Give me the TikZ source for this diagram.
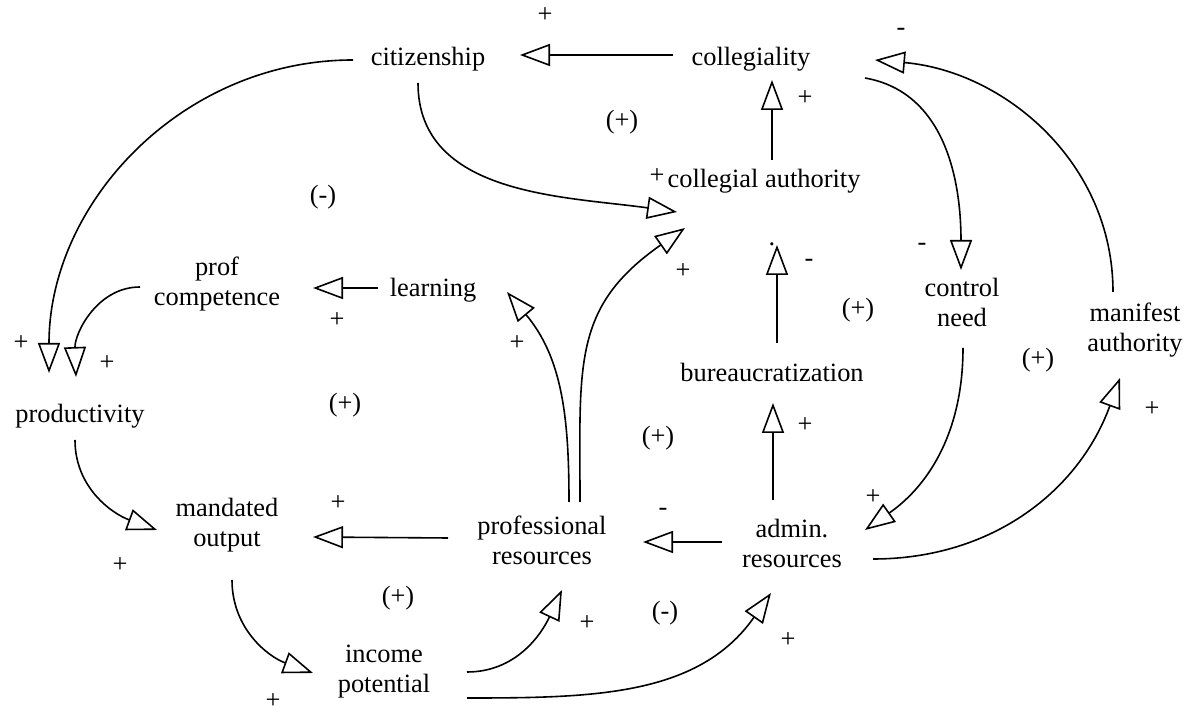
\documentclass[tikz,border=0pt]{standalone}
\usepackage{fontspec}
\setmainfont{Liberation Serif}
\usetikzlibrary{arrows.meta}
\definecolor{ink}{HTML}{000000}

\tikzset{
    var/.style={inner sep=0pt, align=center, text=ink, font=\fontsize{13.2}{15}\selectfont},
    sgn/.style={inner sep=0pt, text=ink, font=\fontsize{13.2}{15}\selectfont},
    link/.style={draw=ink, line width=0.8pt, -{Triangle[open, length=15pt, width=11pt]}},
}

\begin{document}
\begin{tikzpicture}[x=0.5pt, y=-0.5pt]
    \useasboundingbox (0,0) rectangle (1190,715);

    % variables
    \node[var] (cit) at (428,59) {citizenship};
    \node[var] (coll) at (751,59) {collegiality};
    \node[var] (colauth) at (764,181) {collegial authority};
    \node[var] (profcomp) at (217,284) {prof\\competence};
    \node[var] (learning) at (433,290) {learning};
    \node[var] (control) at (962,302) {control\\need};
    \node[var] (manifest) at (1135,330) {manifest\\authority};
    \node[var] (prod) at (80,416) {productivity};
    \node[var] (bureau) at (772,372) {bureaucratization};
    \node[var] (mandated) at (227,525) {mandated\\output};
    \node[var] (profres) at (542,540) {professional\\resources};
    \node[var] (admin) at (792,543) {admin.\\resources};
    \node[var] (income) at (384,672) {income\\potential};

    % straight links
    \draw[link] ([shift={(-78,-4)}]coll.center) -- ([shift={(92,-4)}]cit.center);
    \draw[link] ([shift={(8,-21)}]colauth.center) -- ([shift={(21,21)}]coll.center);
    \draw[link] ([shift={(5,-29)}]bureau.center) -- ([shift={(13,64)}]colauth.center);
    \draw[link] ([shift={(-55,-2)}]learning.center) -- ([shift={(96,4)}]profcomp.center);
    \draw[link] ([shift={(-19,-43)}]admin.center) -- ([shift={(1,31)}]bureau.center);
    \draw[link] ([shift={(-70,-1)}]admin.center) -- ([shift={(101,2)}]profres.center);
    \draw[link] ([shift={(-94,-2)}]profres.center) -- ([shift={(86,12)}]mandated.center);

    % curved links
    \draw[link] ([shift={(-10,24)}]cit.center) to[out=-90, in=172] ([shift={(-87,31)}]colauth.center);
    \draw[link] ([shift={(38,-38)}]profres.center) to[out=90, in=215, looseness=1.2] ([shift={(-79,47)}]colauth.center);
    \draw[link] ([shift={(114,19)}]coll.center) to[out=-10, in=90] ([shift={(-1,-32)}]control.center);
    \draw[link] ([shift={(-22,-38)}]manifest.center) to[out=90, in=-5] ([shift={(124,1)}]coll.center);
    \draw[link] ([shift={(-75,1)}]cit.center) to[out=180, in=90] ([shift={(-31,-43)}]prod.center);
    \draw[link] ([shift={(-77,3)}]profcomp.center) to[out=180, in=92] ([shift={(-4,-39)}]prod.center);
    \draw[link] ([shift={(27,-38)}]profres.center) to[out=90, in=-50] ([shift={(74,2)}]learning.center);
    \draw[link] ([shift={(1,46)}]control.center) to[out=-90, in=35] ([shift={(73,-13)}]admin.center);
    \draw[link] ([shift={(81,16)}]admin.center) to[out=0, in=-110] ([shift={(-15,48)}]manifest.center);
    \draw[link] ([shift={(-5,24)}]prod.center) to[out=-90, in=160] ([shift={(-70,5)}]mandated.center);
    \draw[link] ([shift={(5,55)}]mandated.center) to[out=-90, in=160] ([shift={(-71,1)}]income.center);
    \draw[link] ([shift={(83,0)}]income.center) to[out=0, in=-115] ([shift={(20,50)}]profres.center);
    \draw[link] ([shift={(83,26)}]income.center) to[out=0, in=-125] ([shift={(-21,50)}]admin.center);

    % link signs
    \foreach \x / \y / \s [count=\i] in {545/15/+, 805/98/+, 901/32/-, 657/176/+, 683/271/+,
            772/244/., 809/263/-, 922/247/-, 337/320/+, 21/343/+, 107/363/+, 517/343/+,
            805/425/+, 1152/409/+, 873/497/+, 338/503/+, 663/512/-, 120/565/+, 273/701/+,
            587/623/+, 788/640/+}
        \node[sgn] (sign\i) at (\x,\y) {\s};

    % loop polarities
    \foreach \x / \y / \s [count=\i] in {622/122/(+), 323/197/(-), 345/405/(+), 658/438/(+),
            858/310/(+), 1038/360/(+), 398/598/(+), 665/613/(-)}
        \node[sgn] (loop\i) at (\x,\y) {\s};

\end{tikzpicture}
\end{document}
